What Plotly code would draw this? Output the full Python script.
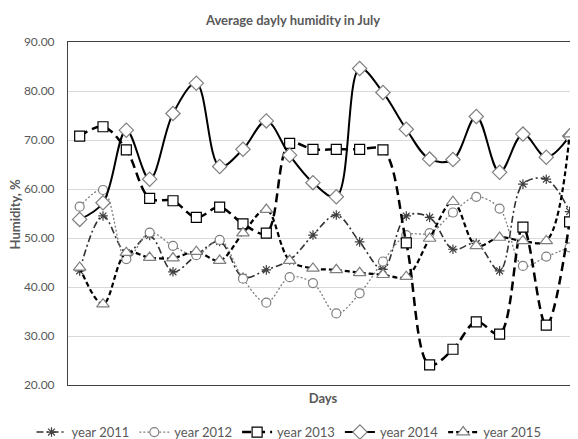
import plotly.graph_objects as go

days = list(range(1, 23))

y2011 = [43.3, 54.5, 47.0, 50.5, 43.1, 46.5, 49.3, 42.0, 43.5, 45.5, 50.6, 54.7,
         49.2, 43.6, 54.5, 54.2, 47.7, 48.9, 43.3, 61.0, 62.0, 55.4]
y2012 = [56.4, 59.8, 45.7, 51.1, 48.4, 46.5, 49.6, 41.7, 36.8, 42.0, 40.8, 34.6,
         38.7, 45.2, 50.6, 51.0, 55.2, 58.4, 56.0, 44.3, 46.2, 48.1]
y2013 = [70.8, 72.7, 68.0, 58.1, 57.6, 54.2, 56.3, 52.9, 51.0, 69.3, 68.1, 68.1,
         68.1, 68.0, 49.0, 24.1, 27.3, 32.9, 30.4, 52.2, 32.2, 53.3]
y2014 = [53.8, 57.2, 72.0, 62.0, 75.4, 81.6, 64.6, 68.1, 73.9, 66.9, 61.3, 58.4,
         84.6, 79.7, 72.2, 66.1, 66.0, 74.8, 63.4, 71.2, 66.5, 70.8]
y2015 = [44.0, 36.5, 47.0, 46.0, 45.9, 47.2, 45.4, 51.0, 55.8, 45.4, 43.8, 43.5,
         42.9, 42.5, 42.1, 49.9, 57.4, 48.4, 50.1, 49.4, 49.4, 71.2]

names = ["year 2011", "year 2012", "year 2013", "year 2014", "year 2015"]
yticks = [20, 30, 40, 50, 60, 70, 80, 90]

FONT = "Lato, Carlito, Calibri, sans-serif"
GRAY = "#595959"

styles = [
    dict(data=y2011, dash="7px,3px,2px,3px", width=1.6, color="#333333",
         symbol="asterisk-open", size=8, mcolor="#404040"),
    dict(data=y2012, dash="2px,2px", width=1.3, color="#7f7f7f",
         symbol="circle", size=9, mcolor="#7f7f7f"),
    dict(data=y2013, dash="9px,5px", width=2.5, color="#000000",
         symbol="square", size=10, mcolor="#000000"),
    dict(data=y2014, dash="solid", width=2.0, color="#000000",
         symbol="diamond", size=11, mcolor="#7f7f7f"),
    dict(data=y2015, dash="5px,3px", width=2.2, color="#000000",
         symbol="triangle-up", size=11, mcolor="#7f7f7f"),
]

fig = go.Figure()
for name, s in zip(names, styles):
    fig.add_trace(go.Scatter(
        x=days, y=s["data"], name=name, mode="lines+markers",
        line=dict(shape="spline", smoothing=1.0, dash=s["dash"],
                  width=s["width"], color=s["color"]),
        marker=dict(symbol=s["symbol"], size=s["size"],
                    color="white" if "asterisk" not in s["symbol"] else s["mcolor"],
                    line=dict(color=s["mcolor"], width=1.2)),
    ))

# The page body has an 8px margin, so the figure is sized and laid out 8px smaller.
fig.update_layout(
    width=570, height=431,
    margin=dict(l=60, r=0, t=34, b=54, autoexpand=False),
    paper_bgcolor="white", plot_bgcolor="white",
    font=dict(family=FONT, color=GRAY, size=12),
    title=dict(text="<b>Average dayly humidity in July</b>", xref="container",
               x=0.5, xanchor="center", yref="container", y=0.972,
               yanchor="middle", font=dict(size=13, color=GRAY, family=FONT)),
    showlegend=True,
    legend=dict(orientation="h", xref="container", x=0.493, xanchor="center",
                yref="container", y=0.016, yanchor="middle",
                font=dict(size=13, color=GRAY, family=FONT),
                itemwidth=30, tracegroupgap=0, bgcolor="rgba(0,0,0,0)"),
    xaxis=dict(range=[0.5, 22.36], showticklabels=False, showgrid=False,
               zeroline=False, showline=True, mirror=True, linecolor="#404040",
               linewidth=1, ticks="",
               title=dict(text="<b>Days</b>", standoff=8,
                          font=dict(size=13, color=GRAY, family=FONT))),
    yaxis=dict(range=[20, 90], tickvals=yticks, tickformat=".2f",
               showgrid=True, gridcolor="#d9d9d9", gridwidth=1,
               zeroline=False, showline=True, mirror=True, linecolor="#404040",
               linewidth=1, ticks="", ticklabelstandoff=10,
               tickfont=dict(size=12, color=GRAY, family=FONT)),
    annotations=[dict(text="<b>Humidity, %</b>", xref="paper", yref="paper",
                      x=-0.104, y=0.5, xanchor="center", yanchor="middle",
                      textangle=-90, showarrow=False,
                      font=dict(size=13, color=GRAY, family=FONT))],
)

fig.write_html("out.html")
